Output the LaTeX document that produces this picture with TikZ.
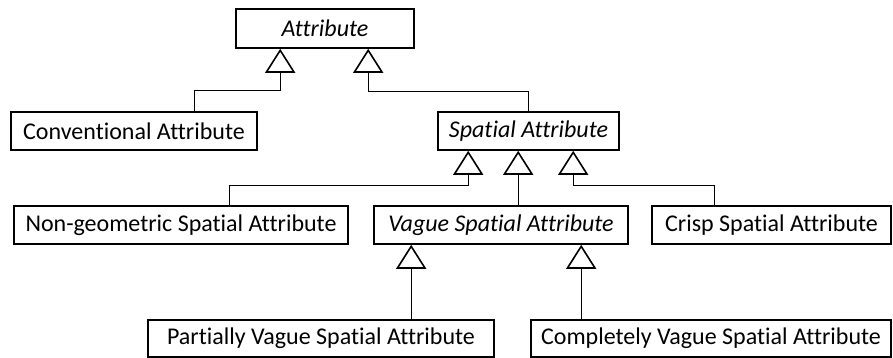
\documentclass[tikz,border=0pt]{standalone}
\usepackage{fontspec}
\setmainfont[Ligatures={NoCommon,NoContextual},RawFeature={-liga;-clig;-calt}]{Carlito}
\usetikzlibrary{arrows.meta,calc}
\begin{document}
\begin{tikzpicture}[x=1pt,y=-1pt,
  cls/.style={draw, line width=1.6pt, inner sep=0pt, minimum height=38pt,
    font=\fontsize{24}{28}\selectfont},
  abstractcls/.style={cls, font=\fontsize{24}{28}\selectfont\itshape},
  gen/.style={line width=1.3pt, -{Triangle[open, length=24pt, width=30pt, line width=1.6pt]}}]
\useasboundingbox (0,0) rectangle (893,358);
% classes
\node[abstractcls, minimum width=178pt, minimum height=39pt] (attr) at (325,28.5) {Attribute};
\node[cls, minimum width=246pt] (conv) at (134,131) {Conventional Attribute};
\node[abstractcls, minimum width=181pt] (spat) at (528.5,131) {Spatial Attribute};
\node[cls, minimum width=334pt] (nong) at (181,225) {Non-geometric Spatial Attribute};
\node[abstractcls, minimum width=254pt] (vague) at (501,225) {Vague Spatial Attribute};
\node[cls, minimum width=239pt] (crisp) at (771.5,225) {Crisp Spatial Attribute};
\node[cls, minimum width=346pt, minimum height=37pt] (part) at (321,338.5) {Partially Vague Spatial Attribute};
\node[cls, minimum width=360pt, minimum height=37pt] (comp) at (711,338.5) {Completely Vague Spatial Attribute};
% generalisation targets on the superclasses
\coordinate (a1) at ($(attr.south west)+(45,0)$);
\coordinate (a2) at ($(attr.south west)+(133,0)$);
\coordinate (s1) at ($(spat.south west)+(31,0)$);
\coordinate (s2) at ($(spat.south west)+(81,0)$);
\coordinate (s3) at ($(spat.south west)+(136,0)$);
\coordinate (v1) at ($(vague.south west)+(38,0)$);
\coordinate (v2) at ($(vague.south west)+(208,0)$);
% attachment points on the subclasses
\coordinate (c1) at ($(conv.north west)+(184,0)$);
\coordinate (n1) at ($(nong.north west)+(216,0)$);
\coordinate (k1) at ($(crisp.north west)+(63,0)$);
% generalisations
\draw[gen] (c1) -- ++(0,-21) -| (a1);
\draw[gen] (spat.north) -- ++(0,-20) -| (a2);
\draw[gen] (n1) -- ++(0,-20) -| (s1);
\draw[gen] (vague.north -| s2) -- (s2);
\draw[gen] (k1) -- ++(0,-20) -| (s3);
\draw[gen] (part.north -| v1) -- (v1);
\draw[gen] (comp.north -| v2) -- (v2);
\end{tikzpicture}
\end{document}
